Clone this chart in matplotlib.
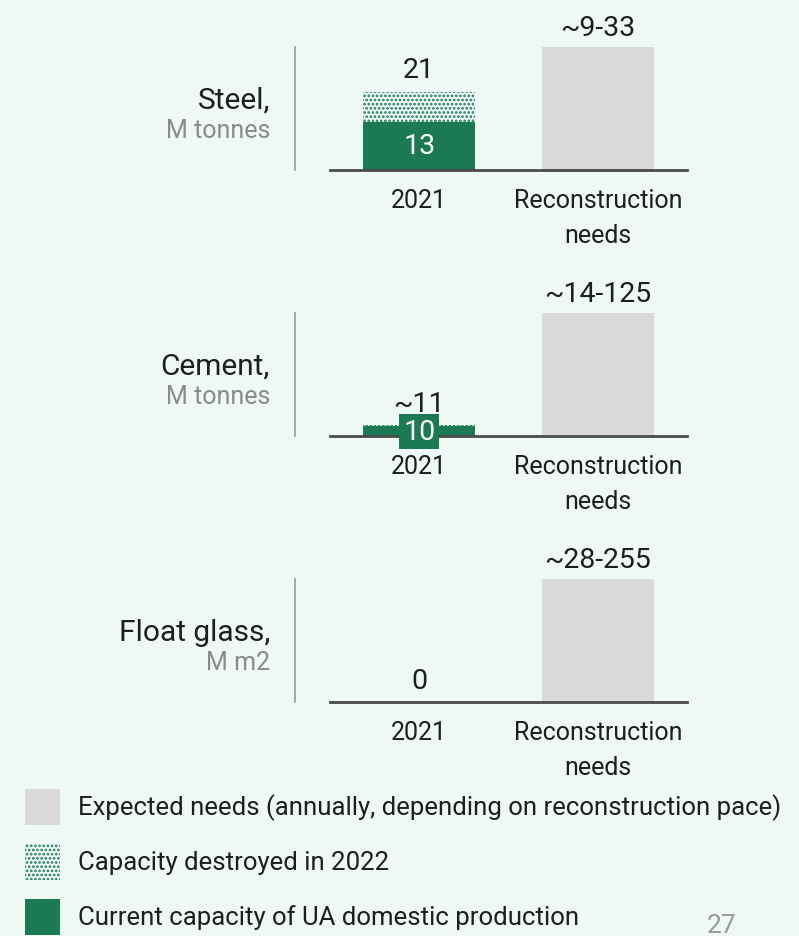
import matplotlib
matplotlib.use("Agg")
import matplotlib.pyplot as plt

plt.rcParams['font.family'] = ['Roboto', 'DejaVu Sans']
plt.rcParams['hatch.linewidth'] = 1.3

# materials, units and values (M tonnes / M m2)
materials = ["Steel,", "Cement,", "Float glass,"]
units = ["M tonnes", "M tonnes", "M m2"]
current_2021 = [13, 10, 0]          # current capacity of UA domestic production
total_2021 = [21, 11, 0]            # capacity before 2022 destruction
total_labels = ["21", "~11", "0"]
needs_upper = [33, 125, 255]        # upper bound of annual reconstruction needs
needs_labels = ["~9-33", "~14-125", "~28-255"]
categories = ["2021", "Reconstruction\nneeds"]

legend_labels = [
    "Expected needs (annually, depending on reconstruction pace)",
    "Capacity destroyed in 2022",
    "Current capacity of UA domestic production",
]

BG = "#eef8f5"
GREEN = "#1b7a53"
GREY = "#d9d9d9"
AXIS = "#4a4a4a"
TEXT = "#1e1e1e"
DOTS = "...."

W, H = 799, 937
fig = plt.figure(figsize=(W / 100, H / 100), dpi=100, facecolor=BG)


def px_axes(x0, y_top, x1, y_base):
    return fig.add_axes([x0 / W, 1 - y_base / H, (x1 - x0) / W, (y_base - y_top) / H])


baselines = [171, 437, 703]
bar_w = 0.625
for i, base in enumerate(baselines):
    ax = px_axes(330, base - 123, 687, base)
    ax.set_facecolor("none")
    ax.set_xlim(-0.5, 1.5)
    ax.set_ylim(0, needs_upper[i])
    for s in ["top", "right", "left"]:
        ax.spines[s].set_visible(False)
    ax.spines["bottom"].set_color(AXIS)
    ax.spines["bottom"].set_linewidth(2)
    ax.set_yticks([])
    ax.set_xticks([])

    # 2021: current capacity + destroyed part
    ax.bar(0, current_2021[i], width=bar_w, color=GREEN, linewidth=0)
    destroyed = total_2021[i] - current_2021[i]
    if destroyed > 0:
        ax.bar(0, destroyed, bottom=current_2021[i], width=bar_w, facecolor=BG,
               edgecolor=GREEN, hatch=DOTS, linewidth=0)
    ax.bar(1, needs_upper[i], width=bar_w, color=GREY, linewidth=0)

    # value labels
    ax.annotate(total_labels[i], (0, total_2021[i]), xytext=(0, 6),
                textcoords="offset points", ha="center", va="bottom",
                fontsize=20.5, color=TEXT, annotation_clip=False)
    ax.annotate(needs_labels[i], (1, needs_upper[i]), xytext=(0, 4),
                textcoords="offset points", ha="center", va="bottom",
                fontsize=20.5, color=TEXT, annotation_clip=False)
    if current_2021[i] > 0:
        if current_2021[i] / needs_upper[i] > 0.2:
            ax.text(0, current_2021[i] / 2, str(current_2021[i]), ha="center",
                    va="center", fontsize=20.5, color="white")
        else:
            ax.text(0, current_2021[i] / 2, str(current_2021[i]), ha="center",
                    va="center", fontsize=20.5, color="white",
                    bbox=dict(boxstyle="square,pad=0.14", fc=GREEN, ec="none"))

    # category labels below the axis
    for x, cat in enumerate(categories):
        ax.annotate(cat, (x, 0), xytext=(0, -13), textcoords="offset points",
                    ha="center", va="top", fontsize=18, color=TEXT,
                    linespacing=1.6, annotation_clip=False)

    # divider and row title
    ax.plot([-0.698, -0.698], [0, 1], transform=ax.get_xaxis_transform(),
            color="#9a9a9a", lw=1.2, clip_on=False)
    fig.text(270 / W, 1 - (base - 70) / H, materials[i], ha="right",
             va="center", fontsize=21.5, color=TEXT)
    fig.text(270 / W, 1 - (base - 40) / H, units[i], ha="right",
             va="center", fontsize=18, color="#8a8a8a")

# legend swatches
sw_y = [808, 863, 918]
for k, (lab, y) in enumerate(zip(legend_labels, sw_y)):
    sax = px_axes(25, y - 18, 60, y + 18)
    sax.set_axis_off()
    sax.set_xlim(0, 1)
    sax.set_ylim(0, 1)
    if k == 0:
        sax.bar(0.5, 1, width=1, color=GREY, linewidth=0)
    elif k == 1:
        sax.bar(0.5, 1, width=1, facecolor=BG, edgecolor=GREEN, hatch=DOTS,
                linewidth=0)
    else:
        sax.bar(0.5, 1, width=1, color=GREEN, linewidth=0)
    fig.text(78 / W, 1 - y / H, lab, ha="left", va="center", fontsize=18.5,
             color=TEXT)

fig.text(722 / W, 1 - 926 / H, "27", ha="center", va="center", fontsize=19,
         color="#9a9a9a")

fig.savefig("out.png", dpi=100, facecolor=BG)
